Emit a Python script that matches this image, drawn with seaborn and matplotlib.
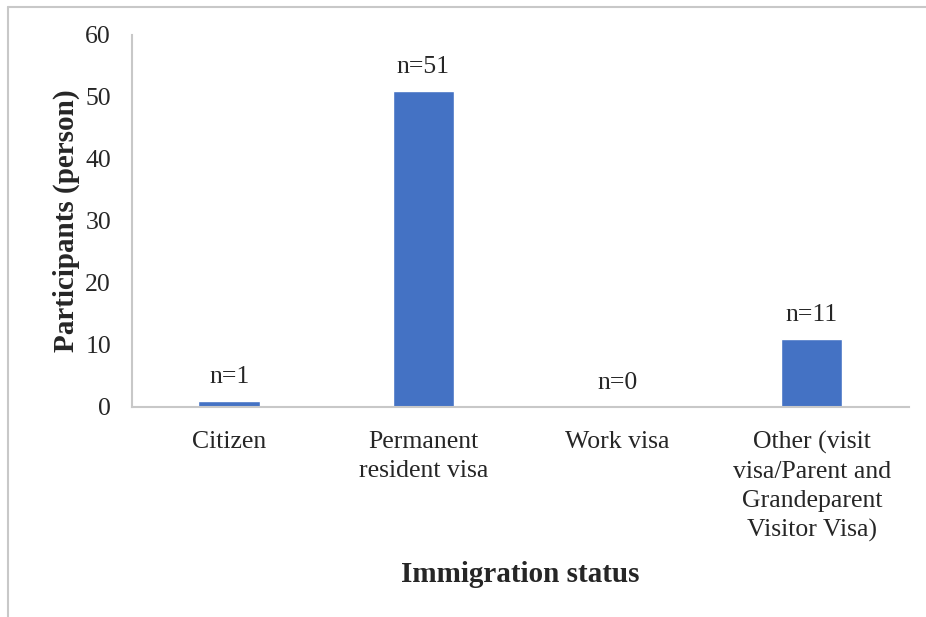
import matplotlib
matplotlib.use("Agg")
import matplotlib.pyplot as plt
import seaborn as sns
import pandas as pd
from matplotlib.lines import Line2D

categories = ["Citizen", "Permanent\nresident visa", "Work visa",
              "Other (visit\nvisa/Parent and\nGrandeparent\nVisitor Visa)"]
participants = [1, 51, 0, 11]
labels = ["n=1", "n=51", "n=0", "n=11"]
yticks = [0, 10, 20, 30, 40, 50, 60]

sns.set_theme(style="white")
plt.rcParams["font.family"] = ["Liberation Serif", "DejaVu Serif"]

df = pd.DataFrame({"status": categories, "participants": participants})

fig = plt.figure(figsize=(9.26, 6.17), dpi=100)
ax = fig.add_axes([0.1425, 0.3404, 0.9816 - 0.1425, 0.9433 - 0.3404])
sns.barplot(data=df, x="status", y="participants", color="#4472C4",
            width=0.315, saturation=1, ax=ax)

ax.set_ylim(0, 60)
ax.set_yticks(yticks)
ax.set_yticklabels([str(t) for t in yticks], fontsize=18.5)
ax.set_xticks(range(len(categories)))
ax.set_xticklabels(categories, fontsize=18.5, linespacing=1.42)
ax.tick_params(axis="both", length=0)
ax.tick_params(axis="y", pad=15)
ax.tick_params(axis="x", pad=17)

for i, (v, lab) in enumerate(zip(participants, labels)):
    ax.annotate(lab, (i, v), xytext=(0, 9), textcoords="offset points",
                ha="center", va="bottom", fontsize=18.5)

ax.set_xlabel("Immigration status", fontsize=21, fontweight="bold", labelpad=13)
ax.set_ylabel("Participants (person)", fontsize=21, fontweight="bold", labelpad=4)

for s in ["top", "right"]:
    ax.spines[s].set_visible(False)
for s in ["left", "bottom"]:
    ax.spines[s].set_color("#C8C8C8")
    ax.spines[s].set_linewidth(1.5)

# outer frame (top and left visible)
fig.add_artist(Line2D([8 / 926, 8 / 926], [0, 1 - 7 / 617], transform=fig.transFigure,
                      color="#C8C8C8", lw=1.5))
fig.add_artist(Line2D([8 / 926, 1], [1 - 7 / 617, 1 - 7 / 617], transform=fig.transFigure,
                      color="#C8C8C8", lw=1.5))

fig.savefig("out.png", dpi=100)
